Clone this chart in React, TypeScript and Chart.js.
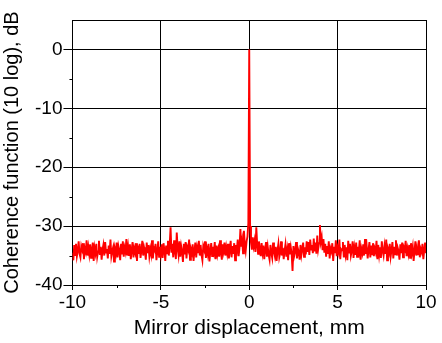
import { useEffect, useRef } from "react";
import { Chart, registerables } from "chart.js";

Chart.register(...registerables);

// Sampling of the mirror displacement axis (mm)
const xStart = -10;
const xStep = 0.05;

// Coherence function, dB (10 log), one value per sample
const coherenceLeft = [
  -34.5, -35.8, -33.2, -34.9, -33.0, -35.1, -34.2, -32.6, -34.7, -35.3, -33.4, -34.0, -32.9, -35.6, -33.8, -34.4, -32.4, -35.0, -33.6, -34.8,
  -33.1, -35.4, -34.1, -32.8, -35.9, -33.7, -34.6, -33.0, -35.2, -34.3, -32.5, -34.9, -33.5, -35.7, -34.0, -33.2, -35.0, -32.7, -34.5, -33.9,
  -35.5, -33.3, -34.7, -32.3, -35.1, -34.2, -33.6, -36.0, -33.9, -34.6, -32.8, -35.3, -33.4, -34.1, -35.8, -33.0, -34.8, -32.6, -35.2, -33.7,
  -34.4, -32.2, -35.0, -33.5, -34.9, -33.1, -35.6, -34.0, -32.7, -35.3, -33.8, -34.5, -32.9, -35.9, -33.3, -34.7, -33.0, -35.4, -34.2, -32.5,
  -35.0, -33.6, -34.3, -35.7, -32.8, -34.6, -33.2, -35.1, -33.9, -34.8, -32.4, -35.5, -33.7, -34.1, -33.0, -35.8, -34.4, -32.6, -35.2, -33.5,
  -34.7, -33.1, -35.4, -32.9, -34.0, -35.9, -33.3, -34.6, -32.5, -35.0, -33.2, -30.2, -34.5, -33.0, -35.3, -32.4, -34.2, -35.6, -31.1, -33.8,
  -34.9, -32.6, -35.2, -33.4, -34.3, -36.1, -33.0, -34.8, -32.7, -35.5, -33.6, -34.1, -32.3, -35.7, -33.9, -34.5, -33.1, -35.9, -34.2, -32.8,
  -35.3, -33.7, -34.6, -32.5, -35.0, -33.2, -34.9, -35.8, -33.4, -34.0, -32.6, -35.4, -33.8, -34.7, -33.0, -36.0, -34.3, -32.9, -35.1, -33.5,
  -34.4, -32.7, -35.6, -33.3, -34.8, -33.9, -35.2, -32.4, -34.5, -35.7, -33.1, -34.2, -32.8, -35.0, -33.6, -34.6, -33.0, -35.5, -34.1, -32.5,
  -35.3, -33.4, -34.7, -32.9, -35.8, -33.2, -34.0, -32.3, -35.1, -33.7, -30.5, -33.5, -32.4, -34.6, -30.8, -33.0, -34.2, -32.6, -31.8, -29.5,
];
const coherencePeak = [0];
const coherenceRight = [
  -30.0, -32.8, -34.0, -31.9, -33.4, -32.5, -34.4, -30.2, -33.1, -34.7, -32.6, -33.9, -35.1, -32.9, -34.5, -33.3, -35.6, -34.0, -32.7, -35.2,
  -33.6, -34.9, -35.7, -33.2, -34.6, -35.4, -32.8, -34.3, -35.1, -33.5, -35.9, -34.1, -33.0, -35.3, -34.6, -32.6, -35.0, -33.7, -35.6, -34.2,
  -33.1, -35.2, -34.0, -35.8, -32.9, -34.8, -33.6, -34.7, -37.6, -33.4, -35.0, -34.3, -32.7, -35.5, -33.8, -34.4, -35.7, -33.2, -34.9, -33.9,
  -32.8, -35.2, -33.6, -34.8, -32.6, -34.4, -32.7, -34.9, -32.3, -34.0, -33.2, -34.6, -32.1, -34.3, -32.8, -34.7, -31.6, -33.9, -32.9, -29.8,
  -32.7, -31.9, -34.1, -32.2, -34.5, -33.0, -35.2, -33.4, -34.7, -32.6, -35.5, -33.8, -34.3, -32.9, -35.9, -33.5, -34.6, -32.4, -35.1, -33.7,
  -34.4, -32.3, -35.6, -33.9, -34.1, -32.7, -35.3, -33.2, -34.8, -33.6, -35.8, -32.5, -34.5, -33.0, -35.0, -34.2, -32.6, -35.4, -33.7, -34.9,
  -32.8, -35.2, -33.5, -34.3, -32.4, -35.7, -33.9, -34.6, -33.1, -35.0, -32.2, -34.7, -33.6, -35.5, -34.0, -32.7, -35.3, -33.3, -34.8, -32.9,
  -35.1, -33.8, -34.4, -32.5, -35.6, -33.2, -34.9, -33.6, -35.4, -32.6, -34.2, -35.0, -33.4, -34.7, -32.3, -35.8, -33.9, -34.5, -33.0, -35.2,
  -34.1, -32.7, -35.5, -33.5, -34.8, -32.4, -35.0, -33.7, -34.3, -35.7, -33.1, -34.6, -32.8, -35.3, -33.6, -34.0, -32.5, -35.1, -33.8, -34.7,
  -33.2, -35.4, -32.9, -34.5, -33.5, -35.9, -34.2, -32.6, -35.0, -33.7, -34.8, -32.4, -35.3, -33.9, -34.4, -33.0, -35.6, -34.1, -32.8, -34.6,
];

const xMinorTicks = [-7.5, -2.5, 2.5, 7.5];
const yMinorTicks = [-35, -25, -15, -5];

const FONT = '"Liberation Sans", Arial, Helvetica, sans-serif';

const minorTicksPlugin = {
  id: "minorTicksAndBox",
  afterDraw(chart: any) {
    const { ctx, chartArea, scales } = chart;
    ctx.save();
    ctx.strokeStyle = "#000";
    ctx.lineWidth = 1;
    ctx.beginPath();
    for (const v of xMinorTicks) {
      const px = Math.round(scales.x.getPixelForValue(v)) + 0.5;
      ctx.moveTo(px, chartArea.bottom);
      ctx.lineTo(px, chartArea.bottom + 3);
    }
    for (const v of yMinorTicks) {
      const py = Math.round(scales.y.getPixelForValue(v)) + 0.5;
      ctx.moveTo(chartArea.left - 3, py);
      ctx.lineTo(chartArea.left, py);
    }
    ctx.stroke();
    ctx.restore();
  },
};

export default function App() {
  const canvasRef = useRef<HTMLCanvasElement | null>(null);

  useEffect(() => {
    if (!canvasRef.current) return;
    const all = [...coherenceLeft, ...coherencePeak, ...coherenceRight];
    const points = all.map((y, i) => ({ x: xStart + i * xStep, y }));
    const isMult = (v: number, m: number) => Math.abs(v / m - Math.round(v / m)) < 1e-6;

    const chart = new Chart(canvasRef.current, {
      type: "line",
      data: {
        datasets: [
          {
            data: points,
            borderColor: "#ff0000",
            borderWidth: 1.9,
            pointRadius: 0,
            tension: 0,
            fill: false,
          },
        ],
      },
      options: {
        responsive: false,
        animation: false,
        events: [],
        layout: { padding: { top: 20, right: 16, left: 0, bottom: 2 } },
        plugins: { legend: { display: false }, tooltip: { enabled: false } },
        scales: {
          x: {
            type: "linear",
            min: -10,
            max: 10,
            ticks: {
              stepSize: 2.5,
              autoSkip: false,
              maxRotation: 0,
              color: "#000",
              padding: 1,
              font: { family: FONT, size: 19 },
              callback: (v: any) => (isMult(Number(v), 5) ? String(v) : ""),
            },
            grid: {
              color: (c: any) => (isMult(c.tick?.value ?? 0, 5) ? "#000" : "rgba(0,0,0,0)"),
              tickColor: (c: any) => (isMult(c.tick?.value ?? 0, 5) ? "#000" : "rgba(0,0,0,0)"),
              lineWidth: 1,
              tickLength: 5,
            },
            border: { color: "#000", width: 1 },
            title: {
              display: true,
              text: "Mirror displacement, mm",
              color: "#000",
              font: { family: FONT, size: 21 },
              padding: { top: 1, bottom: 0 },
            },
          },
          y: {
            type: "linear",
            min: -40,
            max: 5,
            ticks: {
              stepSize: 5,
              autoSkip: false,
              color: "#000",
              padding: 1,
              font: { family: FONT, size: 19 },
              callback: (v: any) => (isMult(Number(v), 10) ? String(v) : ""),
            },
            grid: {
              color: (c: any) => {
                const v = c.tick?.value ?? 0;
                return isMult(v, 10) || v === 5 ? "#000" : "rgba(0,0,0,0)";
              },
              tickColor: (c: any) => (isMult(c.tick?.value ?? 0, 10) ? "#000" : "rgba(0,0,0,0)"),
              lineWidth: 1,
              tickLength: 9,
            },
            border: { color: "#000", width: 1 },
            title: {
              display: true,
              text: "Coherence function (10 log), dB",
              color: "#000",
              font: { family: FONT, size: 20 },
              padding: { top: 0, bottom: 10 },
            },
          },
        },
      },
      plugins: [minorTicksPlugin],
    });
    return () => chart.destroy();
  }, []);

  return (
    <div style={{ position: "absolute", left: 0, top: 0, width: 442, height: 343, background: "#fff" }}>
      <canvas ref={canvasRef} width={442} height={343} style={{ display: "block" }} />
    </div>
  );
}
